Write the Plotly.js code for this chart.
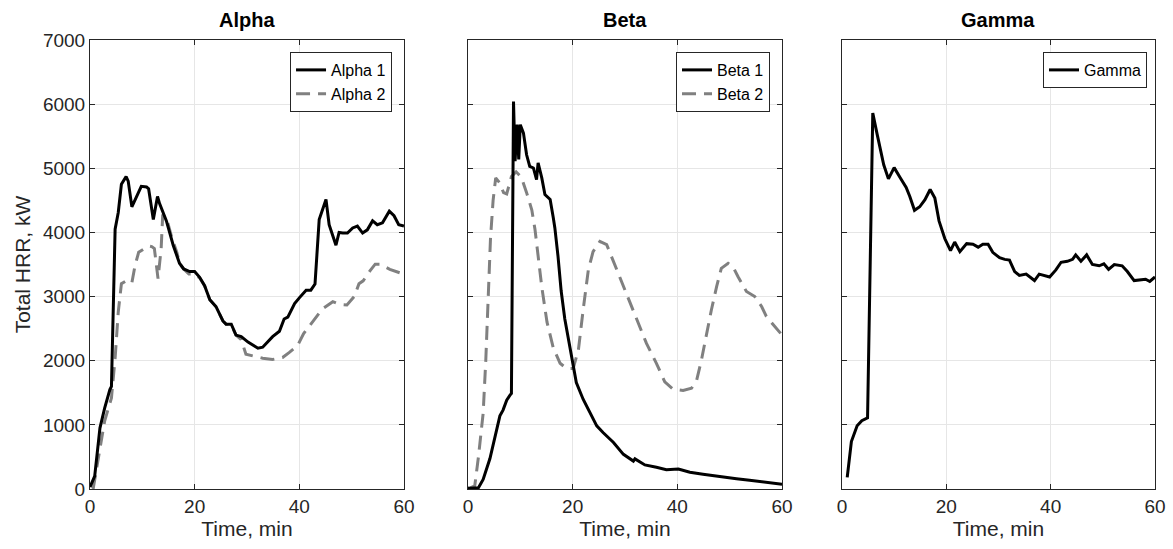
<!DOCTYPE html>
<html>
<head>
<meta charset="utf-8">
<script src="https://cdn.plot.ly/plotly-3.0.1.min.js"></script>
<style>html,body{margin:0;padding:0;background:#fff;}#chart{width:1173px;height:549px;}</style>
</head>
<body>
<div id="chart"></div>
<script>
// ---------- data ----------
var alpha1_t = [0,0.9,1.9,2.8,3.8,4.1,4.8,5.4,6.0,6.9,7.3,8.0,8.9,9.8,10.8,11.2,12.1,12.9,13.3,14.6,15.9,17.1,17.9,19.05,20.0,20.96,21.9,22.9,24.1,25.4,26.0,27.0,27.9,28.9,30.2,32.1,33.0,34.0,34.9,36.2,37.1,37.8,39.1,40.0,41.3,42.2,43.0,43.8,45.1,45.7,47.0,47.6,48.3,49.2,50.2,51.1,52.1,53.0,54.0,54.9,55.9,57.2,58.1,59.0,60];
var alpha1_v = [30,200,950,1260,1550,1600,4050,4310,4750,4870,4800,4400,4560,4720,4710,4680,4200,4560,4450,4180,3800,3520,3430,3390,3390,3300,3170,2950,2840,2620,2570,2570,2400,2375,2290,2195,2210,2290,2375,2460,2650,2680,2890,2980,3100,3100,3195,4200,4515,4120,3800,4000,3990,3990,4070,4100,3990,4040,4180,4120,4150,4330,4260,4120,4100];

var alpha2_t = [0.6,1.5,2.8,4.1,4.8,5.4,6.0,7.0,8.0,8.6,9.3,11.2,11.8,12.3,13.0,13.6,13.9,14.7,15.7,16.6,17.1,17.9,18.9,20.0,20.96,21.9,22.9,24.1,25.4,26.0,27.0,27.9,28.9,29.8,31.1,33.0,34.9,36.8,38.1,39.7,40.8,42.9,44.4,46.4,47.6,49.1,50.5,51.4,52.2,53.5,54.5,55.4,57.3,59.6,60];
var alpha2_v = [0,440,1060,1420,2040,2760,3200,3250,3215,3480,3690,3790,3780,3750,3280,3750,4280,4200,3900,3690,3520,3430,3350,3350,3290,3170,2950,2840,2620,2570,2560,2400,2330,2100,2075,2040,2020,2050,2130,2240,2420,2650,2805,2920,2880,2870,3000,3200,3245,3400,3505,3505,3425,3360,3340];

var beta1_t = [0,0.4,2.0,2.9,4.2,5.5,6.1,6.7,7.4,8.0,8.3,8.7,9.0,9.4,9.7,10.0,10.6,11.2,11.8,12.5,13.1,13.4,14.1,14.7,15.7,16.3,16.6,17.2,17.8,18.5,19.4,20.1,20.7,22.0,23.3,24.6,25.8,27.8,29.7,31.6,31.9,33.8,36.0,37.9,40.2,42.4,44.9,48.1,51.3,53.8,56.4,58.5,60];
var beta1_v = [15,10,20,150,475,900,1140,1230,1385,1460,1490,6040,5110,5680,5140,5680,5550,5210,5030,5005,4825,5085,4850,4590,4515,4230,4070,3630,3090,2650,2240,1960,1660,1400,1190,985,880,725,540,435,470,375,340,300,310,260,230,190,160,135,110,95,75];

var beta2_t = [0,1.3,2.0,2.9,3.4,3.9,4.3,4.8,5.3,6.0,6.8,7.4,8.3,9.2,10.2,11.2,12.2,12.8,13.4,14.1,15.1,16.3,17.6,18.8,20.1,21.1,22.0,23.0,23.9,25.2,26.5,28.4,30.3,32.2,34.1,36.0,37.6,39.2,41.1,42.7,43.7,44.6,45.6,46.5,47.5,48.4,49.7,50.6,51.6,53.2,54.8,56.1,57.0,58.6,60];
var beta2_v = [0,50,500,1180,2000,3000,3900,4500,4850,4780,4620,4600,4870,4945,4860,4620,4350,4050,3600,3150,2600,2200,1960,1880,1880,2170,2790,3420,3700,3860,3810,3420,3050,2640,2270,1960,1670,1555,1535,1570,1700,2010,2430,2790,3155,3440,3520,3470,3310,3080,3000,2845,2690,2530,2400];

var gamma_t = [1.0,1.8,2.9,3.8,4.9,5.9,6.7,8.0,8.9,10.0,11.1,12.3,13.0,13.9,14.9,15.9,16.9,17.8,18.6,19.7,20.8,21.6,22.6,23.9,25.1,26.1,27.0,28.0,28.9,30.2,31.2,32.1,33.1,34.0,35.3,36.9,37.8,39.8,41.0,42.0,43.2,44.2,44.8,45.8,46.9,48.0,49.3,50.2,51.1,52.2,53.7,54.7,56.0,57.2,58.2,59.0,60];
var gamma_v = [180,740,985,1065,1110,5860,5545,5055,4835,5010,4860,4700,4560,4345,4400,4510,4670,4535,4180,3905,3715,3850,3700,3825,3815,3770,3815,3815,3690,3605,3580,3570,3390,3330,3350,3250,3350,3305,3415,3535,3550,3580,3650,3550,3650,3500,3480,3510,3425,3500,3480,3390,3250,3260,3270,3235,3305];

var panelTitles = ['Alpha','Beta','Gamma'];
var xTicks = [0,20,40,60];
var yTicks = [0,1000,2000,3000,4000,5000,6000,7000];

// ---------- styling ----------
var FONT = 'Liberation Sans, Arial, Helvetica, sans-serif';
var AX = '#262626';
var GRID = '#e6e6e6';
var solid = {color:'#000000', width:3};
var dashed = {color:'#808080', width:3, dash:'14px,8px'};

var traces = [
  {x:alpha2_t, y:alpha2_v, name:'Alpha 2', mode:'lines', line:dashed, xaxis:'x', yaxis:'y', legend:'legend', legendrank:2},
  {x:alpha1_t, y:alpha1_v, name:'Alpha 1', mode:'lines', line:solid, xaxis:'x', yaxis:'y', legend:'legend', legendrank:1},
  {x:beta2_t, y:beta2_v, name:'Beta 2', mode:'lines', line:dashed, xaxis:'x2', yaxis:'y2', legend:'legend2', legendrank:2},
  {x:beta1_t, y:beta1_v, name:'Beta 1', mode:'lines', line:solid, xaxis:'x2', yaxis:'y2', legend:'legend2', legendrank:1},
  {x:gamma_t, y:gamma_v, name:'Gamma', mode:'lines', line:solid, xaxis:'x3', yaxis:'y3', legend:'legend3', legendrank:1}
];

var domains = [[0,0.2948],[0.3549,0.6498],[0.7061,1]];

function xa(i){
  return {domain:domains[i], anchor: i===0?'y':'y'+(i+1), range:[0,60], tickvals:xTicks,
    ticks:'inside', ticklen:5, tickcolor:AX, showline:true, linecolor:AX, linewidth:1, mirror:'ticks',
    showgrid:true, gridcolor:GRID, gridwidth:1, zeroline:false,
    tickfont:{family:FONT,size:19,color:AX},
    title:{text:'Time, min', font:{family:FONT,size:21,color:AX}, standoff:5}};
}
function ya(i){
  var o = {domain:[0,1], anchor: i===0?'x':'x'+(i+1), range:[0,7000], tickvals:yTicks,
    ticks:'inside', ticklen:5, tickcolor:AX, showline:true, linecolor:AX, linewidth:1, mirror:'ticks',
    showgrid:true, gridcolor:GRID, gridwidth:1, zeroline:false, showticklabels:(i===0),
    tickfont:{family:FONT,size:19,color:AX}};
  if(i===0){ o.title = {text:'Total HRR, kW', font:{family:FONT,size:21,color:AX}, standoff:6}; }
  return o;
}
function leg(xr){
  return {x:xr, y:0.9733, xanchor:'right', yanchor:'top', bgcolor:'#ffffff', bordercolor:AX, borderwidth:1,
    font:{family:FONT,size:16,color:'#000'}, itemwidth:30, tracegroupgap:0};
}

var annotations = panelTitles.map(function(t,i){
  return {text:'<b>'+t+'</b>', xref:'paper', yref:'paper', x:(domains[i][0]+domains[i][1])/2, y:1.0445,
    xanchor:'center', yanchor:'middle', showarrow:false, font:{family:FONT,size:20,color:'#000'}};
});

var layout = {
  width:1173, height:549, margin:{l:90, r:18, t:40, b:60},
  paper_bgcolor:'#ffffff', plot_bgcolor:'#ffffff',
  font:{family:FONT, color:AX},
  showlegend:true,
  xaxis:xa(0), xaxis2:xa(1), xaxis3:xa(2),
  yaxis:ya(0), yaxis2:ya(1), yaxis3:ya(2),
  legend:leg(0.2836), legend2:leg(0.6385), legend3:leg(0.9925),
  annotations:annotations
};

Plotly.newPlot('chart', traces, layout, {displayModeBar:false, staticPlot:true});
</script>
</body>
</html>
